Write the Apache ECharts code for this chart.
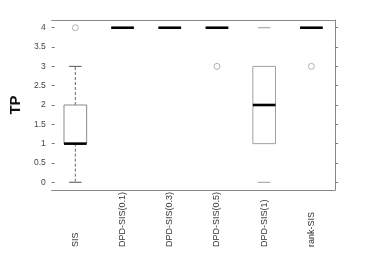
<!DOCTYPE html>
<html>
<head>
<meta charset="utf-8">
<script src="https://cdn.jsdelivr.net/npm/echarts@6/dist/echarts.min.js"></script>
<style>html,body{margin:0;padding:0;background:#fff;}#c{width:371px;height:278px;}</style>
</head>
<body>
<div id="c"></div>
<script>
const categories = ['SIS', 'DPD-SIS(0.1)', 'DPD-SIS(0.3)', 'DPD-SIS(0.5)', 'DPD-SIS(1)', 'rank-SIS'];
const minVals    = [0, 4, 4, 4, 0, 4];
const q1Vals     = [1, 4, 4, 4, 1, 4];
const medianVals = [1, 4, 4, 4, 2, 4];
const q3Vals     = [2, 4, 4, 4, 3, 4];
const maxVals    = [3, 4, 4, 4, 4, 4];
const outlierCats = ['SIS', 'DPD-SIS(0.5)', 'rank-SIS'];
const outlierVals = [4, 3, 3];
const yTicks = [0, 0.5, 1, 1.5, 2, 2.5, 3, 3.5, 4];

const font = 'Liberation Sans, Arial, sans-serif';
const boxData = categories.map((c, i) => [i, minVals[i], q1Vals[i], medianVals[i], q3Vals[i], maxVals[i]]);
const whiskerVisible = [true, true, true, true, false, true];
const boxColor = ['#8a8a8a', '#999', '#999', '#999', '#a0a0a0', '#999'];
const capColor = ['#555', '#555', '#555', '#555', '#9a9a9a', '#555'];

function renderBox(params, api) {
  const i = api.value(0);
  const xc = api.coord([i, 0])[0];
  const yMin = api.coord([i, api.value(1)])[1];
  const yQ1 = api.coord([i, api.value(2)])[1];
  const yMed = api.coord([i, api.value(3)])[1];
  const yQ3 = api.coord([i, api.value(4)])[1];
  const yMax = api.coord([i, api.value(5)])[1];
  const bw = api.size([1, 0])[0] * 0.24;
  const cw = bw * 0.55;
  const ch = [];
  if (whiskerVisible[i]) {
    ch.push({type: 'line', shape: {x1: xc, y1: yQ3, x2: xc, y2: yMax}, style: {stroke: '#666', lineWidth: 1, lineDash: [3, 2]}});
    ch.push({type: 'line', shape: {x1: xc, y1: yQ1, x2: xc, y2: yMin}, style: {stroke: '#666', lineWidth: 1, lineDash: [3, 2]}});
  }
  ch.push({type: 'line', shape: {x1: xc - cw, y1: yMax, x2: xc + cw, y2: yMax}, style: {stroke: capColor[i], lineWidth: 1}});
  ch.push({type: 'line', shape: {x1: xc - cw, y1: yMin, x2: xc + cw, y2: yMin}, style: {stroke: capColor[i], lineWidth: 1}});
  ch.push({type: 'rect', shape: {x: xc - bw, y: yQ3, width: 2 * bw, height: yQ1 - yQ3}, style: {fill: 'none', stroke: boxColor[i], lineWidth: 1}});
  ch.push({type: 'line', shape: {x1: xc - bw, y1: yMed, x2: xc + bw, y2: yMed}, style: {stroke: '#000', lineWidth: 2.6}});
  return {type: 'group', children: ch};
}

const chart = echarts.init(document.getElementById('c'), null, {renderer: 'canvas'});
chart.setOption({
  animation: false,
  backgroundColor: '#fff',
  grid: {left: 48, right: 36, top: 20, bottom: 88, containLabel: false},
  xAxis: [
    {type: 'category', data: categories, position: 'bottom',
     axisLine: {show: true, onZero: false, lineStyle: {color: '#888', width: 1}},
     axisTick: {show: false},
     axisLabel: {rotate: 90, align: 'left', verticalAlign: 'middle', margin: 57, fontSize: 9, color: '#333', fontFamily: font, interval: 0},
     splitLine: {show: false}},
    {type: 'category', data: categories, position: 'top',
     axisLine: {show: true, onZero: false, lineStyle: {color: '#888', width: 1}},
     axisTick: {show: false}, axisLabel: {show: false}, splitLine: {show: false}}
  ],
  yAxis: [
    {type: 'value', min: -0.2, max: 4.2, position: 'left',
     name: 'TP', nameLocation: 'middle', nameGap: 23,
     nameTextStyle: {fontSize: 15, fontWeight: 'bold', color: '#111', fontFamily: font},
     axisLine: {show: false, onZero: false},
     axisTick: {show: true, inside: true, length: 3, customValues: yTicks, lineStyle: {color: '#777'}},
     axisLabel: {customValues: yTicks, margin: 6, fontSize: 8.5, color: '#444', fontFamily: font},
     splitLine: {show: false}},
    {type: 'value', min: -0.2, max: 4.2, position: 'right',
     axisLine: {show: true, onZero: false, lineStyle: {color: '#888', width: 1}},
     axisTick: {show: true, length: 3, customValues: yTicks, lineStyle: {color: '#777'}},
     axisLabel: {show: false}, splitLine: {show: false}}
  ],
  series: [
    {type: 'custom', xAxisIndex: 0, yAxisIndex: 0, renderItem: renderBox, data: boxData,
     encode: {x: 0, y: [1, 2, 3, 4, 5]}, clip: false, z: 2},
    {type: 'scatter', xAxisIndex: 0, yAxisIndex: 0, symbol: 'circle', symbolSize: 6,
     itemStyle: {color: '#fff', borderColor: '#888', borderWidth: 0.8},
     data: outlierCats.map((c, i) => [c, outlierVals[i]]), z: 3}
  ]
});
</script>
</body>
</html>
